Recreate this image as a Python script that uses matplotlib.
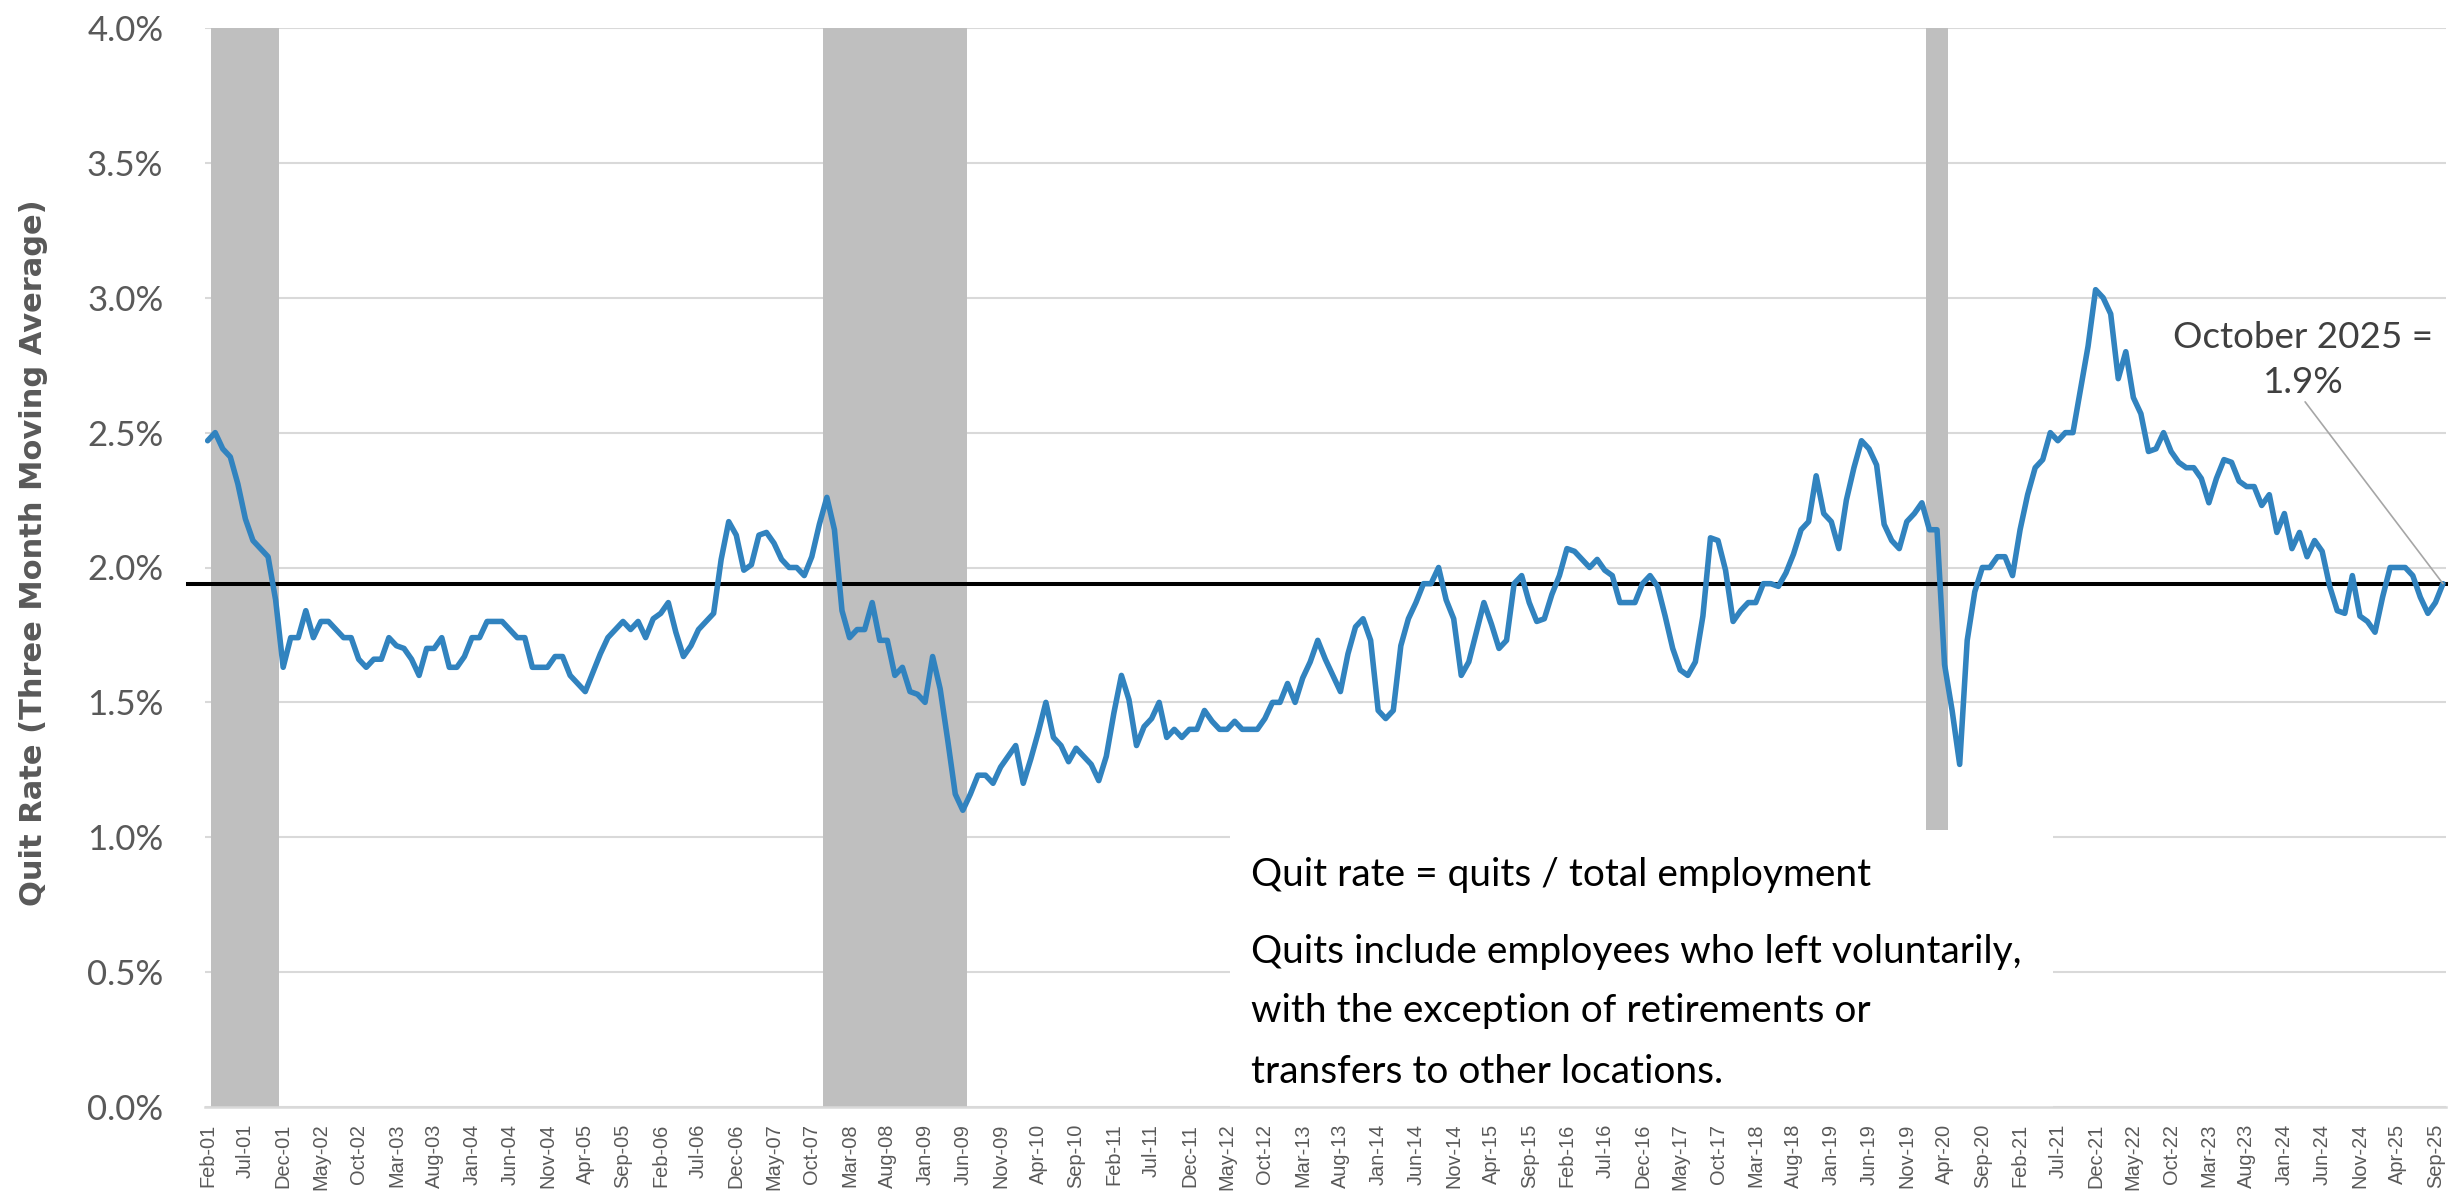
import matplotlib
matplotlib.use('Agg')
import matplotlib.pyplot as plt
import numpy as np
import pandas as pd
from matplotlib.patches import Rectangle


# monthly quit rate, three month moving average (%), Feb 2001 .. Oct 2025
start_month = '2001-02'
quit_rate = [
    2.47, 2.50, 2.44, 2.41, 2.31, 2.18, 2.10, 2.07, 2.04, 1.88,
    1.63, 1.74, 1.74, 1.84, 1.74, 1.80, 1.80, 1.77, 1.74, 1.74,
    1.66, 1.63, 1.66, 1.66, 1.74, 1.71, 1.70, 1.66, 1.60, 1.70,
    1.70, 1.74, 1.63, 1.63, 1.67, 1.74, 1.74, 1.80, 1.80, 1.80,
    1.77, 1.74, 1.74, 1.63, 1.63, 1.63, 1.67, 1.67, 1.60, 1.57,
    1.54, 1.61, 1.68, 1.74, 1.77, 1.80, 1.77, 1.80, 1.74, 1.81,
    1.83, 1.87, 1.76, 1.67, 1.71, 1.77, 1.80, 1.83, 2.03, 2.17,
    2.12, 1.99, 2.01, 2.12, 2.13, 2.09, 2.03, 2.00, 2.00, 1.97,
    2.04, 2.16, 2.26, 2.14, 1.84, 1.74, 1.77, 1.77, 1.87, 1.73,
    1.73, 1.60, 1.63, 1.54, 1.53, 1.50, 1.67, 1.55, 1.36, 1.16,
    1.10, 1.16, 1.23, 1.23, 1.20, 1.26, 1.30, 1.34, 1.20, 1.29,
    1.39, 1.50, 1.37, 1.34, 1.28, 1.33, 1.30, 1.27, 1.21, 1.30,
    1.46, 1.60, 1.51, 1.34, 1.41, 1.44, 1.50, 1.37, 1.40, 1.37,
    1.40, 1.40, 1.47, 1.43, 1.40, 1.40, 1.43, 1.40, 1.40, 1.40,
    1.44, 1.50, 1.50, 1.57, 1.50, 1.59, 1.65, 1.73, 1.66, 1.60,
    1.54, 1.68, 1.78, 1.81, 1.73, 1.47, 1.44, 1.47, 1.71, 1.81,
    1.87, 1.94, 1.94, 2.00, 1.88, 1.81, 1.60, 1.65, 1.76, 1.87,
    1.79, 1.70, 1.73, 1.94, 1.97, 1.87, 1.80, 1.81, 1.90, 1.97,
    2.07, 2.06, 2.03, 2.00, 2.03, 1.99, 1.97, 1.87, 1.87, 1.87,
    1.94, 1.97, 1.93, 1.82, 1.70, 1.62, 1.60, 1.65, 1.82, 2.11,
    2.10, 1.99, 1.80, 1.84, 1.87, 1.87, 1.94, 1.94, 1.93, 1.98,
    2.05, 2.14, 2.17, 2.34, 2.20, 2.17, 2.07, 2.25, 2.37, 2.47,
    2.44, 2.38, 2.16, 2.10, 2.07, 2.17, 2.20, 2.24, 2.14, 2.14,
    1.64, 1.47, 1.27, 1.73, 1.91, 2.00, 2.00, 2.04, 2.04, 1.97,
    2.14, 2.27, 2.37, 2.40, 2.50, 2.47, 2.50, 2.50, 2.66, 2.82,
    3.03, 3.00, 2.94, 2.70, 2.80, 2.63, 2.57, 2.43, 2.44, 2.50,
    2.43, 2.39, 2.37, 2.37, 2.33, 2.24, 2.33, 2.40, 2.39, 2.32,
    2.30, 2.30, 2.23, 2.27, 2.13, 2.20, 2.07, 2.13, 2.04, 2.10,
    2.06, 1.93, 1.84, 1.83, 1.97, 1.82, 1.80, 1.76, 1.89, 2.00,
    2.00, 2.00, 1.97, 1.89, 1.83, 1.87, 1.94,
]

# NBER recessions, peak month .. trough month
recession_start = ['2001-03', '2007-12', '2020-02']
recession_end = ['2001-11', '2009-06', '2020-04']

note_lines = ['Quit rate = quits / total employment',
              'Quits include employees who left voluntarily,',
              'with the exception of retirements or',
              'transfers to other locations.']
callout = 'October 2025 =\n1.9%'

months = pd.period_range(start_month, periods=len(quit_rate), freq='M')
x = np.arange(len(quit_rate))
labels = [m.strftime('%b-%y') for m in months]
tick_every = 5

calibri_like = ['Lato', 'DejaVu Sans']
grey_text = '#595959'

fig = plt.figure(figsize=(24.5, 11.96), dpi=100)
ax = fig.add_axes([205 / 2450, 1 - 1107 / 1196, (2446 - 205) / 2450, (1107 - 28) / 1196])

# recession shading
for s, e in zip(recession_start, recession_end):
    i0 = months.get_loc(pd.Period(s, freq='M'))
    i1 = months.get_loc(pd.Period(e, freq='M'))
    ax.axvspan(i0 - 0.5, i1 + 0.5, color='#bfbfbf', lw=0, zorder=1)

# white text box sits on top of the shading
ax.add_patch(Rectangle((0.4574, 0.0), 0.3672, 0.257, transform=ax.transAxes,
                       facecolor='white', edgecolor='none', zorder=2))

ax.axhline(quit_rate[-1], xmin=-0.0076, xmax=1.0, color='black', lw=2.9,
           zorder=2.8, clip_on=False)
ax.plot(x, quit_rate, color='#3183bf', lw=4.0, solid_joinstyle='round',
        solid_capstyle='round', zorder=3)

ax.set_xlim(-0.35, len(quit_rate) - 0.6)
ax.set_ylim(0, 4.0)
ax.set_yticks(np.arange(0, 4.01, 0.5))
ax.set_yticklabels(['%.1f%%' % v for v in np.arange(0, 4.01, 0.5)])
ax.set_xticks(x[::tick_every])
ax.set_xticklabels(labels[::tick_every], rotation=90, fontsize=14.4,
                   family='Liberation Sans', color=grey_text)
for t in ax.get_yticklabels():
    t.set_fontfamily(calibri_like)
    t.set_fontsize(25)
    t.set_color(grey_text)

ax.tick_params(axis='y', length=0, pad=30)
ax.tick_params(axis='x', length=0, pad=12)
ax.grid(axis='y', color='#d9d9d9', lw=1.5)
ax.set_axisbelow(True)
for side in ['top', 'right', 'left']:
    ax.spines[side].set_visible(False)
ax.spines['bottom'].set_color('#d9d9d9')
ax.spines['bottom'].set_linewidth(1.8)
ax.spines['bottom'].set_zorder(2.5)

fig.text(34 / 2450, 1 - 553 / 1196, 'Quit Rate (Three Month Moving Average)',
         rotation=90, ha='center', va='center', fontsize=22, fontweight='bold',
         family='DejaVu Sans', color=grey_text)

# note inside the white box
baselines = [886, 963, 1022, 1083]
for line, yb in zip(note_lines, baselines):
    fig.text(1251 / 2450, 1 - yb / 1196, line, ha='left', va='baseline',
             fontsize=28, family=calibri_like, color='black', zorder=4)

# callout for the latest value
ax.annotate(callout, xy=(x[-1], quit_rate[-1]), xycoords='data',
            xytext=(2303 / 2450, 1 - 360 / 1196), textcoords='figure fraction',
            ha='center', va='center', fontsize=26.5, family=calibri_like,
            color='#404040', linespacing=1.45,
            arrowprops=dict(arrowstyle='-', color='#a6a6a6', lw=1.2,
                            shrinkA=0, shrinkB=0,
                            relpos=(0.5, 0.0)), zorder=4)

fig.savefig('out.png', dpi=100)
